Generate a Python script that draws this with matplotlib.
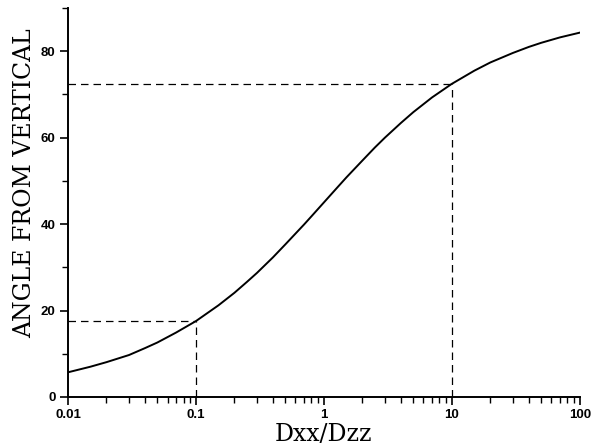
import numpy as np
import matplotlib
matplotlib.use('Agg')
from matplotlib import pyplot as plt
from matplotlib.ticker import LogLocator, MultipleLocator

# values
ratio = [0.01, 0.015, 0.02, 0.03, 0.04, 0.05, 0.07, 0.1, 0.15, 0.2, 0.25, 0.3,
         0.4, 0.5, 0.7, 0.8, 1, 1.25, 1.5, 2, 2.5, 3, 4, 5, 7, 10, 15, 20, 30,
         40, 50, 70, 100]
angle = [5.7, 7.0, 8.05, 9.7, 11.3, 12.6, 14.9, 17.55, 21.2, 24.1, 26.6, 28.7,
         32.3, 35.3, 39.9, 41.8, 45.0, 48.2, 50.8, 54.7, 57.7, 60.0, 63.4, 65.9,
         69.3, 72.45, 75.5, 77.4, 79.6, 81.0, 81.95, 83.2, 84.3]

# dashed guides
guide_x = [0.1, 10]
guide_y = [17.5, 72.4]

xticks = [0.01, 0.1, 1, 10, 100]
xtick_labels = ['0.01', '0.1', '1', '10', '100']
yticks = [0, 20, 40, 60, 80]


def plot_data():
    fig = plt.figure(figsize=(5.91, 4.45), dpi=100)
    ax = fig.add_axes([0.115, 0.108, 0.866, 0.874])

    ax.plot(ratio, angle, color='black', lw=1.4)
    for gx, gy in zip(guide_x, guide_y):
        ax.plot([0.01, gx], [gy, gy], color='black', lw=0.9, ls=(0, (6, 4)))
        ax.plot([gx, gx], [0, gy], color='black', lw=0.9, ls=(0, (6, 4)))

    ax.set_xscale('log')
    ax.set_xlim(0.01, 100)
    ax.set_ylim(0, 90)
    ax.spines['top'].set_visible(False)
    ax.spines['right'].set_visible(False)
    ax.spines['left'].set_linewidth(1.4)
    ax.spines['bottom'].set_linewidth(1.4)

    ax.set_xticks(xticks)
    ax.set_xticklabels(xtick_labels)
    ax.xaxis.set_minor_locator(LogLocator(base=10, subs=np.arange(2, 10)))
    ax.xaxis.set_minor_formatter(matplotlib.ticker.NullFormatter())
    ax.set_yticks(yticks)
    ax.yaxis.set_minor_locator(MultipleLocator(10))

    ax.tick_params(which='major', direction='out', length=6, width=1.2, pad=3)
    ax.tick_params(which='minor', direction='out', length=4, width=1.0)
    for lab in ax.get_xticklabels() + ax.get_yticklabels():
        lab.set_fontweight('bold')
        lab.set_fontsize(9.5)
        lab.set_family('Liberation Sans')

    ax.set_xlabel('Dxx/Dzz', family='DejaVu Serif', fontsize=17)
    ax.set_ylabel('ANGLE FROM VERTICAL', family='DejaVu Serif', fontsize=17)
    ax.yaxis.set_label_coords(-0.062, 0.55)
    ax.xaxis.set_label_coords(0.5, -0.066)
    return fig


def main():
    fig = plot_data()
    fig.savefig('out.png', dpi=100)


if __name__ == "__main__":
    main()
